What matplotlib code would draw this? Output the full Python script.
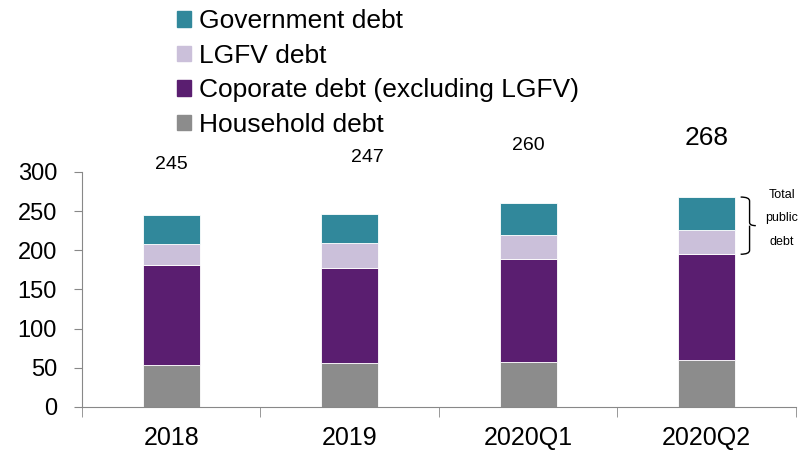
import matplotlib.pyplot as plt
from matplotlib.patches import Patch, PathPatch
from matplotlib.path import Path
import numpy as np

plt.rcParams['font.family'] = ['Liberation Sans', 'DejaVu Sans']

categories = ['2018', '2019', '2020Q1', '2020Q2']
household = [54, 56, 57, 60]
corporate = [127, 122, 132, 135]
lgfv = [27, 31, 31, 31]
government = [37, 38, 41, 42]
totals = ['245', '247', '260', '268']

c_gov = '#31889B'
c_lgfv = '#CBC0DA'
c_corp = '#5A1E70'
c_house = '#8C8C8C'

fig = plt.figure(figsize=(8.02, 4.5), dpi=100)
ax = fig.add_axes([0.1022, 0.0956, 0.8903, 0.5222])

x = np.arange(len(categories))
w = 0.32
b1 = np.array(household)
b2 = b1 + np.array(corporate)
b3 = b2 + np.array(lgfv)
b4 = b3 + np.array(government)
kw = dict(width=w, edgecolor='white', linewidth=0.6)
ax.bar(x, household, color=c_house, **kw)
ax.bar(x, corporate, bottom=b1, color=c_corp, **kw)
ax.bar(x, lgfv, bottom=b2, color=c_lgfv, **kw)
ax.bar(x, government, bottom=b3, color=c_gov, **kw)

ax.set_xlim(-0.5, 3.5)
ax.set_ylim(0, 300)
ax.set_yticks(range(0, 301, 50))
ax.set_xticks(x)
ax.set_xticklabels(categories)
ax.set_xticks(np.arange(-0.5, 3.6, 1), minor=True)
ax.tick_params(axis='x', which='major', length=0, labelsize=18, pad=14)
ax.tick_params(axis='x', which='minor', length=7, color='#888888')
ax.tick_params(axis='y', length=6, color='#888888', labelsize=17, pad=12)
for s in ['top', 'right']:
    ax.spines[s].set_visible(False)
for s in ['left', 'bottom']:
    ax.spines[s].set_color('#888888')

# total labels above bars
label_y = [310, 319, 334, 343]
label_dx = [0, 0.1, 0, 0]
label_fs = [14, 14, 14, 19]
for i, t in enumerate(totals):
    ax.text(x[i] + label_dx[i], label_y[i], t, ha='center', va='center',
            fontsize=label_fs[i], clip_on=False)

# bracket for public debt on last bar
lo, hi = b2[-1], b4[-1]
mid = (lo + hi) / 2
x0 = x[-1] + w / 2 + 0.03
xb = x0 + 0.05
verts = [(x0, hi), (xb, hi), (xb, hi - 5), (xb, mid + 4), (xb, mid), (xb + 0.035, mid),
         (xb, mid), (xb, mid - 4), (xb, lo + 5), (xb, lo), (x0, lo)]
codes = [Path.MOVETO, Path.CURVE3, Path.CURVE3, Path.LINETO, Path.CURVE3, Path.CURVE3,
         Path.MOVETO, Path.CURVE3, Path.CURVE3, Path.CURVE3, Path.CURVE3]
ax.add_patch(PathPatch(Path(verts, codes), fill=False, lw=1.0, color='black', clip_on=False))
for j, word in enumerate(['Total', 'public', 'debt']):
    ax.text(3.42, hi + 3 - j * 30, word, ha='center', va='center', fontsize=9, clip_on=False)

handles = [Patch(color=c_gov, label='Government debt'),
           Patch(color=c_lgfv, label='LGFV debt'),
           Patch(color=c_corp, label='Coporate debt (excluding LGFV)'),
           Patch(color=c_house, label='Household debt')]
fig.legend(handles=handles, loc='upper left', bbox_to_anchor=(0.218, 0.985), frameon=False,
           fontsize=19, handlelength=0.52, handleheight=0.52, handletextpad=0.3,
           labelspacing=0.4, borderaxespad=0, borderpad=0.1)

fig.savefig('out.png', dpi=100)
